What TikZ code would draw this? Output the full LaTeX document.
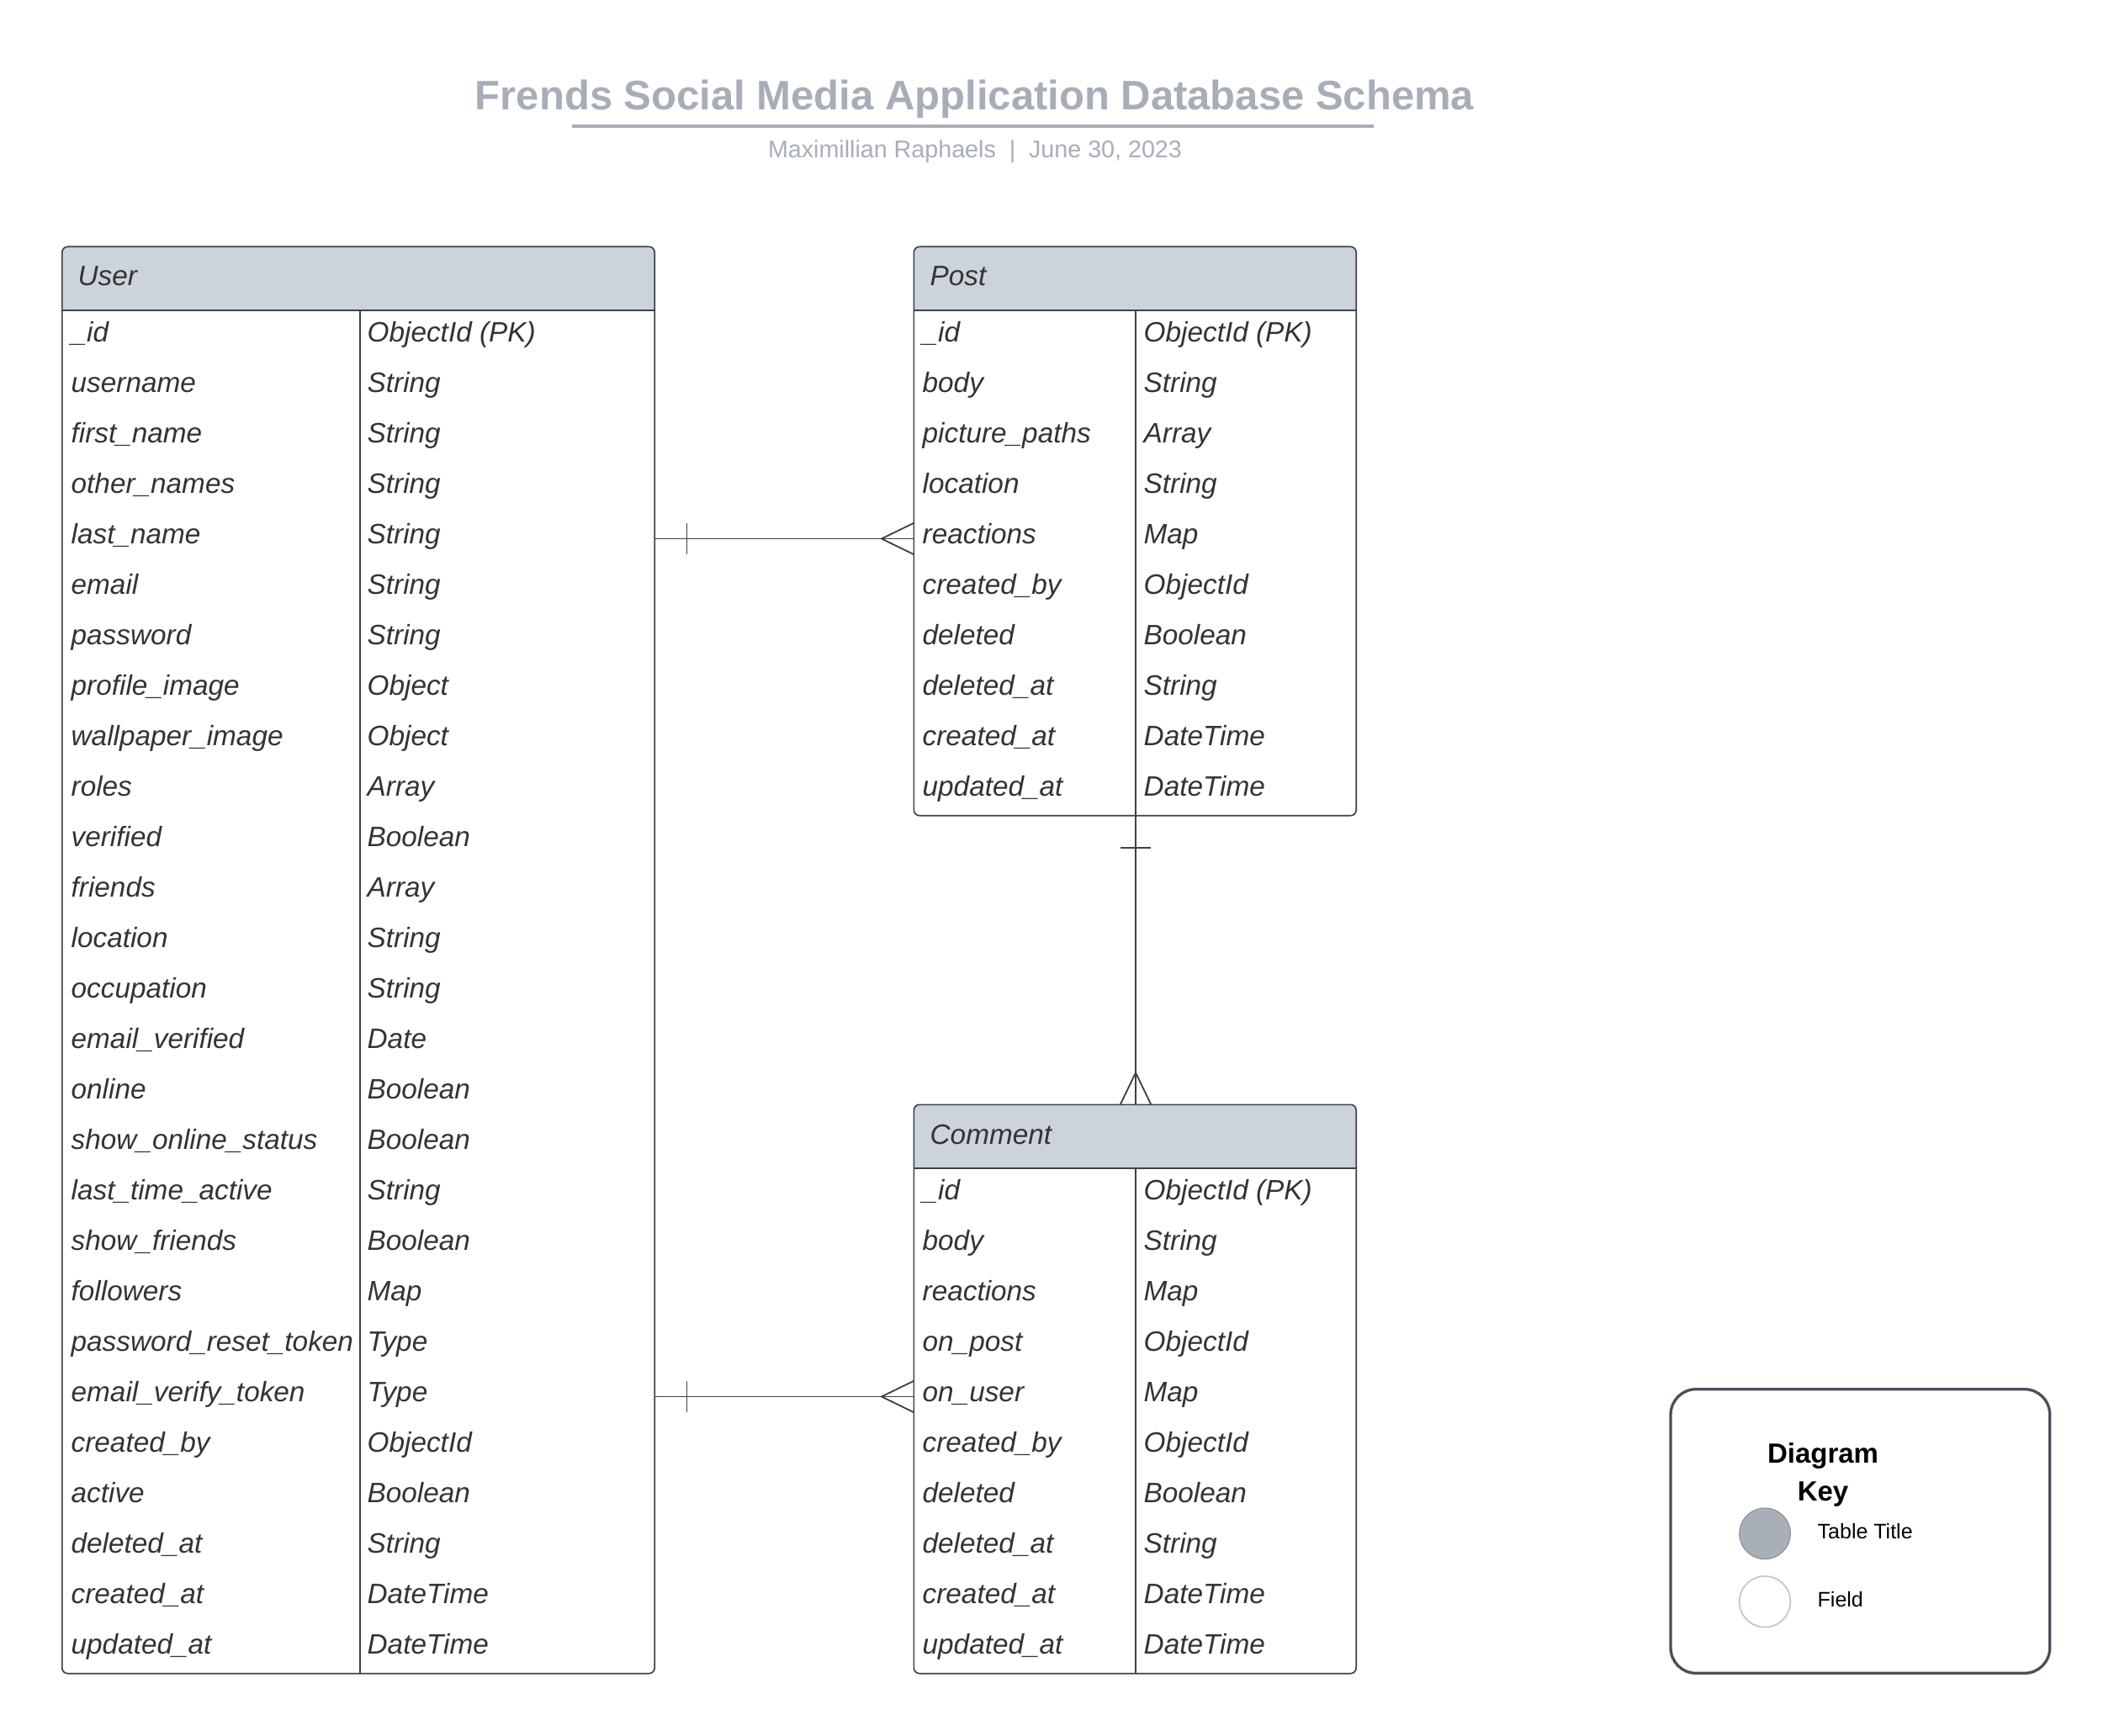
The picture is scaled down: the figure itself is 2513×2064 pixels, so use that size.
\documentclass[tikz,border=0pt]{standalone}
\usepackage{fontspec}
\setmainfont{Liberation Sans}
\usetikzlibrary{fit}

\definecolor{schemaline}{HTML}{3D4149}
\definecolor{headgrey}{HTML}{CDD3DB}
\definecolor{titlegrey}{HTML}{A8AEB8}
\definecolor{cellink}{HTML}{333333}
\definecolor{keyline}{HTML}{4B5058}
\definecolor{keyfill}{HTML}{A9AFB8}
\definecolor{keyring}{HTML}{C4C4C4}

\begin{document}
\begin{tikzpicture}[x=0.3pt, y=-0.3pt,
    tablebox/.style={draw=schemaline, line width=0.5pt, rounded corners=2pt},
    cell/.style={anchor=west, inner sep=0pt, text height=5.4pt, text depth=1.8pt, text=cellink, font=\fontsize{10}{12}\selectfont\itshape},
    rel/.style={draw=schemaline, line width=0.55pt}]
  \useasboundingbox[fill=white] (0,0) rectangle (2513,2064);

  % title
  \node[anchor=base, inner sep=0pt, text=titlegrey, font=\fontsize{14.7}{17}\selectfont\bfseries] (title) at (1158.5,130.7) {Frends Social Media Application Database Schema};
  \coordinate (rule-l) at (680,150);
  \coordinate (rule-r) at (1633,150);
  \draw[titlegrey, line width=1.1pt] (rule-l) -- (rule-r);
  \node[anchor=base, inner sep=0pt, text=titlegrey, font=\fontsize{8.6}{10}\selectfont] (subtitle) at (1159,187.5) {Maximillian Raphaels~~|~~June 30, 2023};

  % User table
  \coordinate (user-nw) at (74.5,294);
  \coordinate (user-se) at (777.5,1989);
  \coordinate (user-hd) at (777.5,369);
  \coordinate (user-div) at (427.8,369);
  \node[fit=(user-nw)(user-se), inner sep=0pt] (user) {};
  \begin{scope}
    \clip[rounded corners=2pt] (user.north west) rectangle (user.south east);
    \fill[headgrey] (user.north west) rectangle (user-hd);
  \end{scope}
  \draw[tablebox] (user.north west) rectangle (user.south east);
  \draw[tablebox] (user.west |- user-hd) -- (user-hd);
  \draw[tablebox] (user-div) -- (user-div |- user.south);
  \node[cell] (user-title) at (92,334) {User};
  \foreach \f/\t [count=\i] in {\_id/ObjectId (PK), username/String, first\_name/String, other\_names/String, last\_name/String, email/String, password/String, profile\_image/Object, wallpaper\_image/Object, roles/Array, verified/Boolean, friends/Array, location/String, occupation/String, email\_verified/Date, online/Boolean, show\_online\_status/Boolean, last\_time\_active/String, show\_friends/Boolean, followers/Map, password\_reset\_token/Type, email\_verify\_token/Type, created\_by/ObjectId, active/Boolean, deleted\_at/String, created\_at/DateTime, updated\_at/DateTime} {
    \node[cell] (user-f\i) at (84,{369+60*\i-28.5}) {\f};
    \node[cell] (user-t\i) at (436,{369+60*\i-28.5}) {\t};
  }

  % Post table
  \coordinate (post-nw) at (1087,294);
  \coordinate (post-se) at (1611.5,969);
  \coordinate (post-hd) at (1611.5,369);
  \coordinate (post-div) at (1350,369);
  \node[fit=(post-nw)(post-se), inner sep=0pt] (post) {};
  \begin{scope}
    \clip[rounded corners=2pt] (post.north west) rectangle (post.south east);
    \fill[headgrey] (post.north west) rectangle (post-hd);
  \end{scope}
  \draw[tablebox] (post.north west) rectangle (post.south east);
  \draw[tablebox] (post.west |- post-hd) -- (post-hd);
  \draw[tablebox] (post-div) -- (post-div |- post.south);
  \node[cell] (post-title) at (1105,334) {Post};
  \foreach \f/\t [count=\i] in {\_id/ObjectId (PK), body/String, picture\_paths/Array, location/String, reactions/Map, created\_by/ObjectId, deleted/Boolean, deleted\_at/String, created\_at/DateTime, updated\_at/DateTime} {
    \node[cell] (post-f\i) at (1096,{369+60*\i-28.5}) {\f};
    \node[cell] (post-t\i) at (1359,{369+60*\i-28.5}) {\t};
  }

  % Comment table
  \coordinate (comment-nw) at (1087,1314);
  \coordinate (comment-se) at (1611.5,1989);
  \coordinate (comment-hd) at (1611.5,1389);
  \coordinate (comment-div) at (1350,1389);
  \node[fit=(comment-nw)(comment-se), inner sep=0pt] (comment) {};
  \begin{scope}
    \clip[rounded corners=2pt] (comment.north west) rectangle (comment.south east);
    \fill[headgrey] (comment.north west) rectangle (comment-hd);
  \end{scope}
  \draw[tablebox] (comment.north west) rectangle (comment.south east);
  \draw[tablebox] (comment.west |- comment-hd) -- (comment-hd);
  \draw[tablebox] (comment-div) -- (comment-div |- comment.south);
  \node[cell] (comment-title) at (1105,1354) {Comment};
  \foreach \f/\t [count=\i] in {\_id/ObjectId (PK), body/String, reactions/Map, on\_post/ObjectId, on\_user/Map, created\_by/ObjectId, deleted/Boolean, deleted\_at/String, created\_at/DateTime, updated\_at/DateTime} {
    \node[cell] (comment-f\i) at (1096,{1389+60*\i-28.5}) {\f};
    \node[cell] (comment-t\i) at (1359,{1389+60*\i-28.5}) {\t};
  }

  % relations: one to many
  \draw[rel] (user.east |- post-f5) -- (post.west |- post-f5);
  \draw[rel] (user.east |- post-f5) ++(38.4,-18.7) -- ++(0,37.4);
  \draw[rel] (post.west |- post-f5) ++(0,-18.7) -- ++(-38.4,18.7) -- ++(38.4,18.7);

  \draw[rel] (user.east |- comment-f5) -- (comment.west |- comment-f5);
  \draw[rel] (user.east |- comment-f5) ++(38.4,-18.7) -- ++(0,37.4);
  \draw[rel] (comment.west |- comment-f5) ++(0,-18.7) -- ++(-38.4,18.7) -- ++(38.4,18.7);

  \draw[rel] (post-div |- post.south) -- (post-div |- comment.north);
  \draw[rel] (post-div |- post.south) ++(-18.3,38.7) -- ++(36.6,0);
  \draw[rel] (post-div |- comment.north) ++(-18.3,0) -- ++(18.3,-38) -- ++(18.3,38);

  % diagram key
  \coordinate (key-nw) at (1986,1651.7);
  \coordinate (key-se) at (2436.7,1989.3);
  \node[draw=keyline, line width=1pt, rounded corners=9pt, fit=(key-nw)(key-se), inner sep=0pt] (key) {};
  \node[anchor=base, inner sep=0pt, font=\fontsize{9.9}{12}\selectfont\bfseries] (key-head) at (2167,1739.3) {Diagram};
  \node[anchor=base, inner sep=0pt, font=\fontsize{9.9}{12}\selectfont\bfseries] (key-head2) at (2167,1784) {Key};
  \node[circle, draw=keyfill!80!black, fill=keyfill, line width=0.3pt, minimum size=18.2pt, inner sep=0pt] (key-table) at (2098,1823.3) {};
  \node[circle, draw=keyring, line width=0.5pt, minimum size=18.2pt, inner sep=0pt] (key-field) at (2098,1904.3) {};
  \node[anchor=base west, inner sep=0pt, font=\fontsize{7.5}{9}\selectfont] (key-table-lbl) at (2160,1829.3) {Table Title};
  \node[anchor=base west, inner sep=0pt, font=\fontsize{7.5}{9}\selectfont] (key-field-lbl) at (2160,1910) {Field};
\end{tikzpicture}
\end{document}
